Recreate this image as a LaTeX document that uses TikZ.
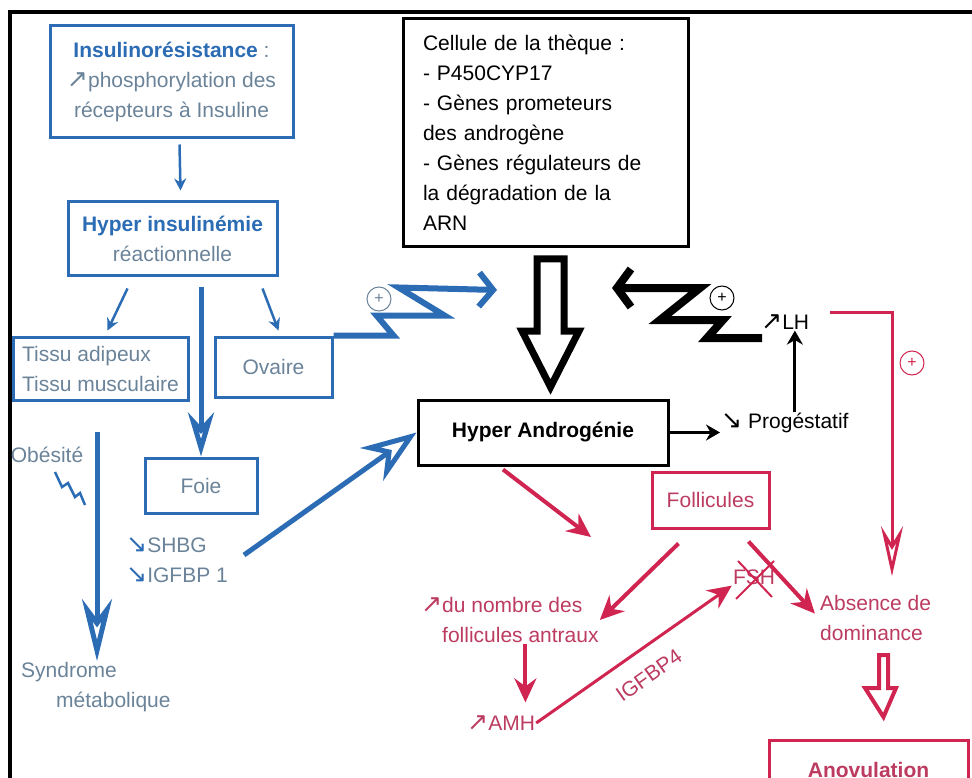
\documentclass[tikz,border=0pt]{standalone}
\usepackage{fontspec}
\setmainfont{Liberation Sans}
\newfontfamily\symfont[Scale=1.2]{DejaVu Sans}
\usetikzlibrary{arrows.meta,calc}

\definecolor{insblue}{HTML}{2B6CB4}
\definecolor{insgrey}{HTML}{6A8399}
\definecolor{androred}{HTML}{CF2550}
\definecolor{androtext}{HTML}{BC3B60}

\newcommand{\uparr}{{\symfont\char"2197}}
\newcommand{\dnarr}{{\symfont\char"2198}}

\begin{document}
\begin{tikzpicture}[
    x=1pt, y=-1pt,
    font=\fontsize{21}{30}\selectfont,
    bluebox/.style={draw=insblue,line width=3pt,text=insgrey,inner sep=0pt},
    blackbox/.style={draw=black,line width=3pt,inner sep=0pt},
    redbox/.style={draw=androred,line width=3pt,text=androtext,inner sep=0pt},
    lbl/.style={inner sep=1pt},
    plusmark/.style={circle,draw,inner sep=0pt,minimum size=24pt,line width=1pt,font=\fontsize{16}{16}\selectfont},
    bluethin/.style={draw=insblue,line width=2.5pt,-{Stealth[length=12pt,width=12pt]}},
    bluebig/.style={draw=insblue,line width=5pt},
    blackarr/.style={draw=black,line width=3pt,-{Stealth[length=14pt,width=16pt]}},
    redarr/.style={draw=androred,line width=4pt,-{Stealth[length=24pt,width=22pt,inset=8pt]}}
    ]

    \path[use as bounding box,clip] (0, 0) rectangle (972, 778);
    \draw[line width=4pt] (10, 778) -- (10, 12) -- (972, 12);

    \node (ins) at (171.5, 82) [bluebox,minimum width=243pt,minimum height=112pt,align=center]
        {\textcolor{insblue}{\textbf{Insulinorésistance}} :\\\uparr phosphorylation des\\récepteurs à Insuline};
    \node (hyp) at (172.5, 238.5) [bluebox,minimum width=209pt,minimum height=73pt,align=center]
        {\textcolor{insblue}{\textbf{Hyper insulinémie}}\\réactionnelle};
    \node (tissu) at (100.5, 368.5) [bluebox,minimum width=175pt,minimum height=63pt,align=left]
        {Tissu adipeux\\Tissu musculaire};
    \node (ovaire) at (273.5, 367) [bluebox,minimum width=117pt,minimum height=60pt] {Ovaire};
    \node (foie) at (201, 485.5) [bluebox,minimum width=112pt,minimum height=55pt] {Foie};
    \node (cell) at (545.5, 133) [blackbox,minimum width=285pt,minimum height=228pt,inner xsep=20pt,text width=245pt,align=left]
        {Cellule de la thèque :\\- P450CYP17\\- Gènes prometeurs\\des androgène\\- Gènes régulateurs de\\la dégradation de la\\ARN};
    \node (ha) at (543, 432.5) [blackbox,minimum width=250pt,minimum height=65pt,font=\fontsize{21}{30}\selectfont\bfseries] {Hyper Androgénie};
    \node (foll) at (710.5, 500) [redbox,minimum width=117pt,minimum height=56pt] {Follicules};
    \node (anov) at (868.5, 770) [redbox,minimum width=199pt,minimum height=60pt,font=\fontsize{21}{30}\selectfont\bfseries] {Anovulation};

    \node (obes) at (47, 455) [lbl,text=insgrey] {Obésité};
    \node (synd) at (20, 672) [lbl,text=insgrey,anchor=west] {Syndrome};
    \node (metab) at (55, 702) [lbl,text=insgrey,anchor=west] {métabolique};
    \node (shbg) at (125, 545) [lbl,text=insgrey,anchor=west] {\textcolor{insblue}{\dnarr}SHBG};
    \node (igf) at (125, 575) [lbl,text=insgrey,anchor=west] {\textcolor{insblue}{\dnarr}IGFBP 1};
    \node (lh) at (760, 322) [lbl,anchor=west] {\uparr LH};
    \node (prog) at (720, 423) [lbl,anchor=west] {\dnarr\ Progéstatif};
    \node (fsh) at (754, 577) [lbl,text=androtext] {FSH};
    \node (nombre) at (441, 620) [lbl,text=androtext,align=left,anchor=west] {\llap{\uparr}du nombre des\\follicules antraux};
    \node (amh) at (466, 723) [lbl,text=androtext,anchor=west] {\uparr AMH};
    \node (absence) at (819, 618) [lbl,text=androtext,align=left,anchor=west] {Absence de\\dominance};

    \node (plusov) at (379, 299) [plusmark,draw=insgrey,text=insgrey] {+};
    \node (pluslh) at (722, 298) [plusmark] {+};
    \node (plusred) at (912, 363) [plusmark,draw=androred,text=androred] {+};

    \coordinate (obtop) at (97, 432);
    \coordinate (bluetip) at (497, 290);
    \coordinate (lhfoot) at (762, 338);
    \coordinate (blacktip) at (612, 288);
    \coordinate (lhturn) at (892, 312);
    \coordinate (hatip) at (591, 537);

    \draw[bluethin] ([xshift=8pt,yshift=-5pt]ins.south) -- ([xshift=8pt,yshift=10pt]hyp.north);
    \draw[bluethin] ([xshift=-45pt,yshift=-12pt]hyp.south) -- ([xshift=7pt,yshift=5pt]tissu.north);
    \draw[bluethin] ([xshift=90pt,yshift=-12pt]hyp.south) -- ([xshift=5pt,yshift=5pt]ovaire.north);
    \draw[bluebig,-{Stealth[open,length=44pt,width=26pt,inset=14pt]}] ($(foie.north |- hyp.south)+(0,10)$) -- (foie.north);
    \draw[bluebig,-{Stealth[open,length=62pt,width=30pt,inset=20pt]}] (obtop) -- (obtop |- synd.north);
    \draw[bluebig,-{Stealth[open,length=55pt,width=40pt,inset=18pt]}] ([xshift=36pt,yshift=-10pt]shbg.east) -- (ha.west);
    \draw[insblue,line width=2.5pt] (55, 472) -- (62, 487) -- (68, 483) -- (75, 497) -- (80, 493) -- (85, 505);

    \draw[insblue,line width=6pt,-{Straight Barb[length=14pt,width=34pt]}]
        (ovaire.north east) -- ++(60, 0) -- ++(-17, -20) -- ++(68, 0) -- ++(-46, -28) -- (bluetip);
    \draw[black,line width=8pt,-{Straight Barb[length=14pt,width=38pt]}]
        (lhfoot) -- ++(-55, 0) -- ++(16, -18) -- ++(-63, 0) -- ++(40, -32) -- (blacktip);

    \draw[line width=7pt] (537, 259) -- (564, 259) -- (564, 331) -- (579, 331) -- (550.5, 387) -- (522, 331) -- (537, 331) -- cycle;

    \draw[blackarr] (ha.east) -- (ha.east -| prog.west);
    \draw[blackarr] ([xshift=10pt]prog.north) -- ([xshift=10pt]prog.north |- lh.south);

    \draw[androred,line width=3pt,-{Stealth[open,length=50pt,width=22pt,inset=18pt]},shorten >=18pt]
        ([xshift=20pt,yshift=10pt]lh.east) -- (lhturn) -- (lhturn |- absence.north);

    \draw[redarr] ([xshift=-40pt,yshift=-3pt]ha.south) -- (hatip);
    \draw[redarr] ([xshift=-32pt,yshift=-14pt]foll.south) -- (nombre.east);
    \draw[redarr,shorten >=6pt] ([xshift=38pt,yshift=-12pt]foll.south) -- (absence.west);
    \draw[redarr,shorten >=12pt] ([xshift=5pt]nombre.south) -- ([xshift=5pt]nombre.south |- amh.north);
    \draw[redarr,line width=3pt] (amh.east) -- (fsh.south west)
        node[midway,sloped,below=16pt,lbl,text=androtext] {IGFBP4};
    \draw[androred,line width=2pt] ([shift={(-16pt,16pt)}]fsh.center) -- ([shift={(18pt,-20pt)}]fsh.center);
    \draw[androred,line width=2pt] ([shift={(20pt,16pt)}]fsh.center) -- ([shift={(-18pt,-22pt)}]fsh.center);

    \draw[androred,line width=4pt] (879, 655) -- (888, 655) -- (888, 688) -- (896, 688) -- (883.5, 717) -- (865, 688) -- (879, 688) -- cycle;
\end{tikzpicture}
\end{document}
